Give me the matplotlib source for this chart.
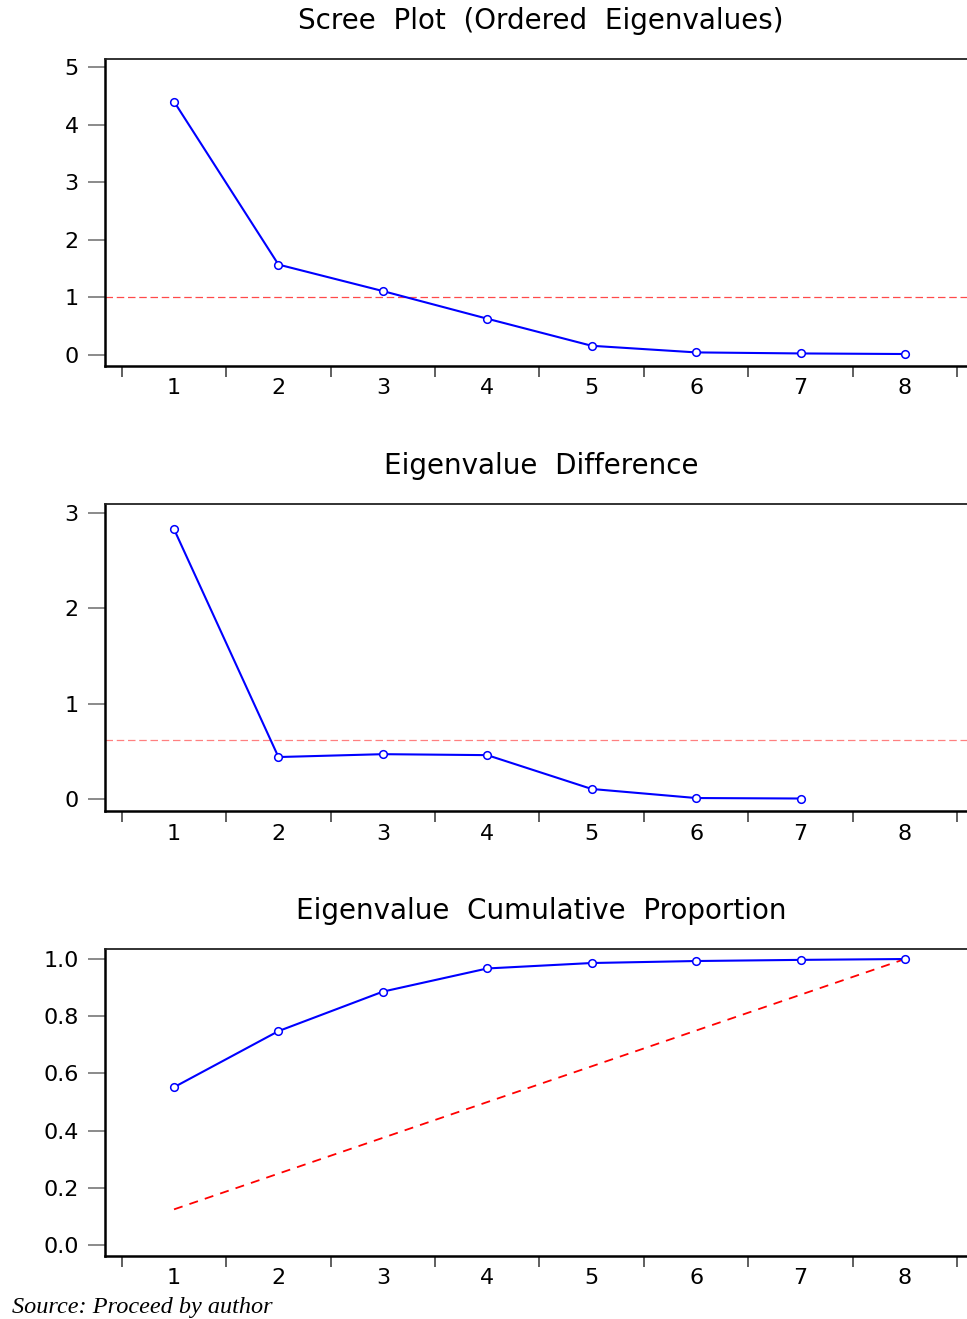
import numpy as np
import matplotlib
matplotlib.use("Agg")
import matplotlib.pyplot as plt

# values
components = [1, 2, 3, 4, 5, 6, 7, 8]
eigenvalues = [4.40, 1.57, 1.11, 0.63, 0.16, 0.045, 0.027, 0.017]
eig_mean = 1.0

diff_components = [1, 2, 3, 4, 5, 6, 7]
differences = [2.83, 0.44, 0.47, 0.46, 0.105, 0.01, 0.005]
diff_mean = 0.62

cum_proportion = [0.552, 0.748, 0.886, 0.967, 0.986, 0.993, 0.997, 1.0]
equal_share = [0.125, 0.25, 0.375, 0.5, 0.625, 0.75, 0.875, 1.0]

titles = ["Scree  Plot  (Ordered  Eigenvalues)",
          "Eigenvalue  Difference",
          "Eigenvalue  Cumulative  Proportion"]

W, H = 967, 1319
fig = plt.figure(figsize=(W / 100, H / 100), dpi=100)


def make_axes(top_px, bottom_px):
    left = 105 / W
    bottom = 1 - bottom_px / H
    height = (bottom_px - top_px) / H
    return fig.add_axes([left, bottom, 1 - left, height])


def style_axes(ax, ylim, yticks, ylabels):
    ax.set_xlim(0.339, 8.594)
    ax.set_ylim(*ylim)
    ax.spines["right"].set_visible(False)
    for s in ["left", "bottom"]:
        ax.spines[s].set_linewidth(1.8)
    ax.spines["top"].set_linewidth(1.3)
    ax.spines["top"].set_color("#222222")

    # tick marks sit between the categories, labels under the categories
    ax.set_xticks(np.arange(0.5, 9.0, 1.0))
    ax.set_xticklabels([])
    ax.set_xticks(components, minor=True)
    ax.set_xticklabels([str(c) for c in components], minor=True)
    ax.tick_params(axis="x", which="major", direction="out", length=8,
                   width=1.2, color="#444444")
    ax.tick_params(axis="x", which="minor", length=0, pad=9, labelsize=16)

    ax.set_yticks(yticks)
    ax.set_yticklabels(ylabels)
    ax.tick_params(axis="y", direction="out", length=12, width=1.2,
                   color="#777777", pad=7, labelsize=16)


line_kw = dict(color="#0000ff", lw=1.5, marker="o", ms=5.5,
               mfc="white", mec="#0000ff", mew=1.1, zorder=3)

# -------------------------
# Scree plot
# -------------------------
ax1 = make_axes(59, 366)
ax1.plot(components, eigenvalues, **line_kw)
ax1.axhline(eig_mean, color="#ff4a4a", lw=0.9, dashes=(6, 3))
style_axes(ax1, (-0.191, 5.139), [0, 1, 2, 3, 4, 5],
           ["0", "1", "2", "3", "4", "5"])

# -------------------------
# Differences
# -------------------------
ax2 = make_axes(504, 811)
ax2.plot(diff_components, differences, **line_kw)
ax2.axhline(diff_mean, color="#ff8080", lw=0.9, dashes=(6, 3))
style_axes(ax2, (-0.126, 3.094), [0, 1, 2, 3], ["0", "1", "2", "3"])

# -------------------------
# Cumulative proportion
# -------------------------
ax3 = make_axes(949, 1256)
ax3.plot(components, cum_proportion, **line_kw)
ax3.plot(components, equal_share, color="#ff0000", lw=1.3, dashes=(5, 4),
         zorder=2)
style_axes(ax3, (-0.038, 1.035), [0.0, 0.2, 0.4, 0.6, 0.8, 1.0],
           ["0.0", "0.2", "0.4", "0.6", "0.8", "1.0"])

title_y = [21, 466, 911]
for t, y in zip(titles, title_y):
    fig.text(541 / W, 1 - y / H, t, ha="center", va="center", fontsize=20)

fig.text(12 / W, 1 - 1313 / H, "Source: Proceed by author",
         family="Liberation Serif", style="italic", fontsize=17.5,
         ha="left", va="baseline")

fig.savefig("out.png", dpi=100)
